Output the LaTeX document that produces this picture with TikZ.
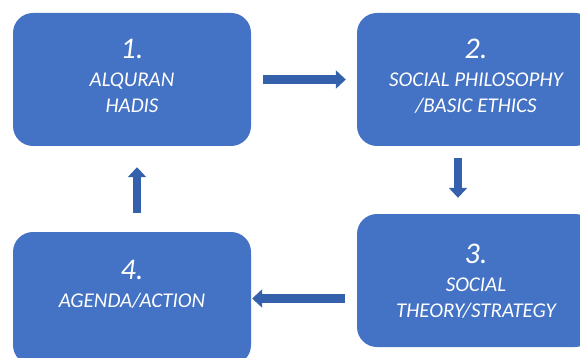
\documentclass[tikz,border=0pt]{standalone}
\usepackage{fontspec}
\setmainfont{Carlito}
\usepackage{xcolor}
\usepackage{tikz}
\usetikzlibrary{arrows.meta}
\definecolor{boxblue}{HTML}{4472C4}
\definecolor{arrowblue}{HTML}{3560AB}

\begin{document}
\begin{tikzpicture}[x=1pt,y=-1pt,
  box/.style={rectangle, rounded corners=20pt, fill=boxblue, minimum width=238pt, minimum height=133pt, inner sep=0pt},
  boxtext/.style={anchor=north, align=center, text=white, inner sep=0pt, font=\itshape\fontsize{21}{26}\selectfont},
  flow/.style={draw=arrowblue, line width=8.5pt, -{Triangle[width=18pt,length=10pt]}}]
\useasboundingbox (0,0) rectangle (580,358);
\newcommand{\numsize}{\fontsize{30}{30}\selectfont}

% Boxes
\node[box] (b1) at (132,79.5) {};
\node[box] (b2) at (476,79.5) {};
\node[box] (b3) at (476,280.5) {};
\node[box] (b4) at (132,298.5) {};

% Texts
\node[boxtext] (t1) at ([yshift=-26pt]b1.north) {{\numsize 1.}\\[2pt] ALQURAN\\ HADIS};
\node[boxtext] (t2) at ([yshift=-26pt]b2.north) {{\numsize 2.}\\[2pt] SOCIAL PHILOSOPHY\\ /BASIC ETHICS};
\node[boxtext] (t3) at ([yshift=-30pt]b3.north) {{\numsize 3.}\\[2pt] SOCIAL\\ THEORY/STRATEGY};
\node[boxtext] (t4) at ([yshift=-28pt]b4.north) {{\numsize 4.}\\[2pt] AGENDA/ACTION};

%Arrows
\draw[flow, shorten <=12pt, shorten >=11pt] (b1.east) -- (b2.west);
\draw[flow, shorten <=12pt, shorten >=16pt] ([xshift=-18pt]b2.south) -- ([xshift=-18pt]b3.north);
\draw[flow, shorten <=12pt, shorten >=1pt] (b4.east -| b3.west) -- (b4.east);
\draw[flow, shorten <=19pt, shorten >=21pt] ([xshift=5pt]b4.north) -- ([xshift=5pt]b1.south);
\end{tikzpicture}
\end{document}
